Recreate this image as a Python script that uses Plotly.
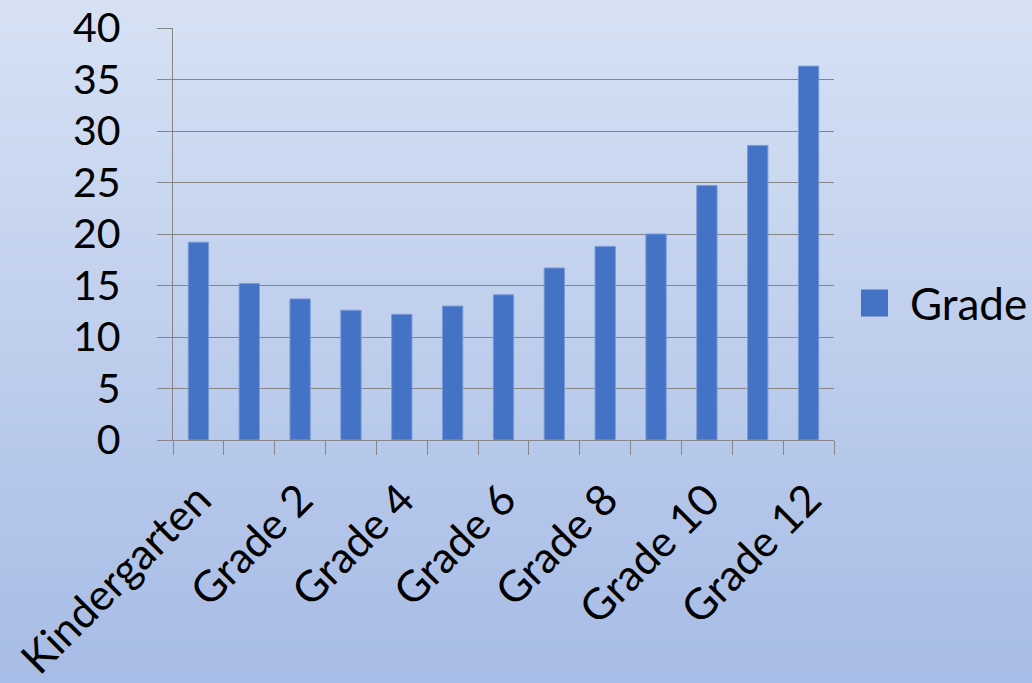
import plotly.graph_objects as go

categories = ["Kindergarten", "Grade 1", "Grade 2", "Grade 3", "Grade 4", "Grade 5",
              "Grade 6", "Grade 7", "Grade 8", "Grade 9", "Grade 10", "Grade 11", "Grade 12"]
values = [19.2, 15.2, 13.7, 12.6, 12.2, 13.0, 14.1, 16.7, 18.8, 20.0, 24.7, 28.6, 36.3]
tick_labels = [c if i % 2 == 0 else "" for i, c in enumerate(categories)]
series_name = "Grade"
y_ticks = [0, 5, 10, 15, 20, 25, 30, 35, 40]

W, H = 1032, 683
L, R, T, B = 173, 198, 28, 243
pw, ph = W - L - R, H - T - B

FONT = "Lato"
GRID = "#858585"
BAR = "#4472c4"

fig = go.Figure()
fig.add_trace(go.Bar(
    x=categories, y=values, name=series_name,
    marker=dict(color=BAR, line=dict(color="#7b9bd8", width=1)),
    showlegend=False,
))

# vertical background gradient
top = (214, 225, 243)
bot = (167, 188, 230)
n = 80
shapes = []
for i in range(n):
    f = i / (n - 1)
    c = tuple(round(top[k] + (bot[k] - top[k]) * f) for k in range(3))
    y1 = (H - B - (i * H / n)) / ph
    y0 = (H - B - ((i + 1) * H / n)) / ph
    shapes.append(dict(type="rect", xref="paper", yref="paper",
                       x0=-L / pw, x1=(W - L) / pw, y0=y0 - 0.003, y1=y1 + 0.001,
                       fillcolor="rgb(%d,%d,%d)" % c, line=dict(width=0), layer="below"))

# legend key drawn manually (large square like the original)
leg_cy = (H - B - 303) / ph
sq = 27
shapes.append(dict(type="rect", xref="paper", yref="paper",
                   x0=(861 - L) / pw, x1=(861 + sq - L) / pw,
                   y0=leg_cy - sq / 2 / ph, y1=leg_cy + sq / 2 / ph,
                   fillcolor=BAR, line=dict(width=0), layer="above"))

fig.update_layout(
    width=W, height=H,
    margin=dict(l=L, r=R, t=T, b=B, pad=0, autoexpand=False),
    paper_bgcolor="rgba(0,0,0,0)", plot_bgcolor="rgba(0,0,0,0)",
    font=dict(family=FONT, size=41, color="black"),
    bargap=0.6,
    shapes=shapes,
    annotations=[dict(text=series_name, xref="paper", yref="paper",
                      x=(908 - L) / pw, y=leg_cy, xanchor="left", yanchor="middle",
                      showarrow=False, font=dict(family=FONT, size=44, color="black"))],
    xaxis=dict(
        type="category", tickvals=categories, ticktext=tick_labels,
        tickson="boundaries", ticks="outside", ticklen=14, tickcolor=GRID, tickwidth=1.3,
        tickangle=-45, showline=True, linecolor=GRID, linewidth=1.3, automargin=False,
        showgrid=False, zeroline=False, tickfont=dict(family=FONT, size=43),
        ticklabelstandoff=16,
    ),
    yaxis=dict(
        range=[0, 40], tickvals=y_ticks, ticks="outside", ticklen=15, automargin=False,
        tickcolor=GRID, tickwidth=1.3, showline=True, linecolor=GRID, linewidth=1.3,
        showgrid=True, gridcolor=GRID, gridwidth=1.3, zeroline=False,
        ticklabelstandoff=28, tickfont=dict(family=FONT, size=41),
    ),
)

fig.write_html("out.html")
